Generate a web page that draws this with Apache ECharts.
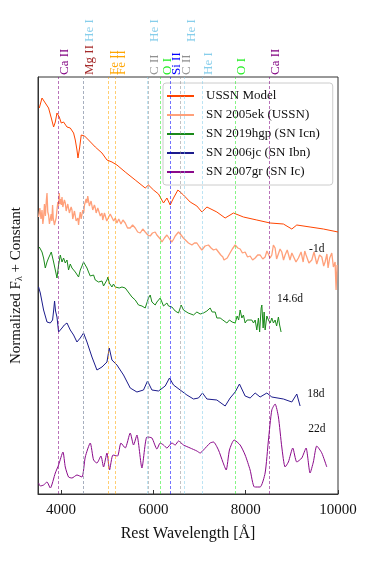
<!DOCTYPE html>
<html>
<head>
<meta charset="utf-8">
<script src="https://cdn.jsdelivr.net/npm/echarts@6/dist/echarts.min.js"></script>
<style>
  html, body { margin: 0; padding: 0; background: #fff; }
  #chart { width: 374px; height: 561px; }
</style>
</head>
<body>
<div id="chart"></div>
<script>
// spectra: rest wavelength (A) and normalized flux + constant
var ussnWl = [3528,3587,3658,3729,3788,3838,3875,3911,3961,4004,4054,4128,4199,4271,4308,4344,4366,4401,4437,4509,4595,4741,4886,4994,5102,5210,5390,5607,5823,5894,6003,6111,6219,6293,6364,6436,6531,6652,6797,6942,7051,7159,7375,7555,7735,7951,8241,8530,8817,8999,9107,9395,9683,10000];
var ussnFlux = [38.6,39.6,39.1,38.6,37.6,36.7,37.2,38.1,37.7,37.1,37.2,36.7,36.6,36.1,35.4,34.4,33.6,34.6,35.9,35.8,35.4,34.7,34.1,33.4,33.2,32.9,32.2,31.4,30.6,30.9,30.4,30.0,29.1,29.6,28.9,29.6,30.4,29.9,29.2,28.8,28.2,28.7,28.2,27.6,28.1,27.7,27.4,27.1,27.0,26.5,26.9,26.7,26.5,26.2];

var ek05Wl = [3513,3540,3565,3587,3605,3621,3640,3660,3680,3695,3712,3729,3748,3766,3785,3800,3816,3830,3838,3855,3875,3893,3911,3930,3945,3961,3975,3990,4005,4020,4038,4054,4072,4091,4110,4128,4145,4162,4180,4199,4218,4236,4253,4271,4290,4308,4326,4344,4362,4379,4398,4416,4435,4453,4470,4490,4507,4524,4543,4561,4578,4595,4613,4632,4650,4669,4686,4704,4722,4741,4760,4777,4795,4812,4850,4886,4903,4920,4940,4957,4990,5028,5065,5102,5140,5174,5210,5250,5297,5340,5390,5440,5498,5550,5607,5660,5715,5770,5823,5880,5931,5980,6039,6075,6111,6150,6185,6240,6293,6350,6401,6440,6473,6510,6544,6600,6650,6689,6760,6834,6890,6942,7000,7051,7120,7193,7250,7302,7360,7410,7460,7505,7530,7555,7600,7648,7710,7772,7830,7880,7930,7988,8040,8096,8150,8205,8260,8313,8370,8421,8460,8493,8530,8566,8600,8637,8670,8709,8745,8782,8820,8854,8900,8960,9000,9033,9090,9142,9200,9245,9280,9308,9370,9432,9480,9540,9600,9649,9690,9720,9760,9785,9820,9865,9900,9937,9958,9980];
var ek05Flux = [27.7,28.6,27.5,28.4,27.0,27.6,29.0,27.8,29.3,30.1,28.2,27.9,27.0,27.1,28.0,27.3,28.9,27.6,27.4,26.9,26.7,27.6,28.4,29.2,28.8,30.1,29.0,29.5,28.9,29.7,28.7,28.6,29.4,29.1,28.3,28.2,29.0,29.0,28.1,28.0,28.7,28.4,27.5,27.6,28.3,28.2,27.3,27.2,27.6,26.9,27.7,28.2,27.5,27.6,28.4,28.1,28.9,28.7,29.5,29.1,29.8,29.6,28.8,28.6,29.3,29.2,28.4,28.3,28.9,28.6,28.1,27.9,28.6,28.5,27.8,28.1,27.4,27.5,28.1,28.0,27.3,27.4,28.0,27.9,27.3,27.6,27.1,27.5,27.0,27.4,27.1,26.6,26.6,26.9,26.6,26.2,26.1,26.5,26.2,25.9,25.8,26.1,26.2,25.9,25.8,25.5,25.2,25.6,25.9,25.5,25.2,25.5,25.8,26.0,26.2,25.9,25.6,25.4,25.1,24.9,25.1,25.1,24.7,24.4,24.8,24.9,24.6,24.4,24.5,24.2,23.9,23.7,23.4,23.2,23.6,24.0,24.5,24.9,24.6,24.5,24.1,24.2,23.7,23.8,23.4,23.6,23.9,23.9,23.5,23.7,24.3,24.4,23.6,23.9,24.9,24.6,23.5,23.7,24.5,24.2,23.4,23.9,24.4,23.4,24.1,24.0,23.2,23.6,24.2,23.2,24.3,23.9,23.1,23.4,24.2,23.0,23.9,23.7,22.8,23.2,24.0,22.6,23.6,24.1,22.7,23.2,20.4,22.9];

var hgp19Wl = [3528,3587,3621,3658,3695,3729,3788,3838,3875,3911,3946,3983,4020,4054,4091,4128,4162,4199,4236,4271,4308,4344,4379,4416,4453,4487,4524,4561,4595,4632,4669,4704,4741,4777,4812,4850,4886,4920,4957,4994,5016,5044,5102,5135,5174,5216,5260,5319,5353,5390,5455,5535,5570,5607,5678,5752,5823,5866,5894,5931,5968,6003,6039,6076,6111,6148,6185,6219,6256,6293,6328,6364,6401,6436,6473,6509,6544,6581,6602,6652,6689,6754,6797,6869,6942,7014,7085,7159,7193,7230,7273,7302,7339,7375,7410,7447,7505,7545,7592,7648,7706,7772,7815,7847,7880,7917,7951,7988,8031,8074,8133,8169,8205,8241,8276,8302,8335,8350,8378,8400,8421,8458,8493,8530,8566,8601,8637,8670,8709,8735,8767];
var hgp19Flux = [24.7,24.2,23.6,22.6,23.2,23.6,24.2,23.2,22.4,21.6,22.9,23.9,23.2,23.6,23.1,23.4,22.4,23.0,22.6,22.8,22.2,22.4,21.7,22.4,22.8,23.2,23.1,22.6,22.2,21.8,21.7,21.9,21.4,21.6,21.2,21.0,21.3,20.8,20.9,21.4,21.7,21.1,20.7,21.0,20.7,20.9,20.6,20.7,20.5,20.6,20.2,19.7,19.9,19.4,18.9,18.8,18.6,19.2,19.6,19.9,19.2,19.4,18.9,19.2,19.4,19.6,19.2,18.8,18.7,19.1,18.8,18.9,18.7,18.5,18.3,18.5,18.1,18.6,18.9,18.4,18.2,18.1,18.2,17.9,18.2,18.0,18.1,18.3,18.2,18.6,18.2,18.0,18.2,17.6,17.8,17.6,17.4,17.6,17.1,17.4,17.2,17.1,17.8,17.4,18.4,17.6,17.9,17.1,17.4,17.2,17.4,17.1,17.4,16.4,17.6,16.2,18.6,18.9,16.6,18.2,16.4,17.8,17.4,17.1,17.6,17.1,17.4,16.8,17.7,16.9,16.2];

var jc06Wl = [3513,3550,3621,3695,3766,3816,3840,3859,3880,3911,3946,4020,4070,4128,4199,4271,4344,4416,4487,4561,4669,4777,4886,4994,5044,5102,5210,5353,5498,5643,5786,5873,5968,6111,6256,6349,6436,6581,6726,6869,6977,7064,7159,7375,7555,7663,7772,7865,7988,8096,8205,8313,8458,8566,8817,8999,9107,9179];
var jc06Flux = [20.7,20.1,18.4,17.2,17.1,17.4,18.4,19.3,18.3,17.7,16.2,16.6,16.9,17.1,16.4,15.9,15.2,15.6,16.1,15.2,13.7,12.4,12.7,13.2,14.6,13.4,12.9,11.9,10.6,10.2,10.4,11.3,10.4,10.3,10.8,11.6,10.9,10.4,9.9,9.5,9.6,10.1,9.5,9.4,8.8,9.6,10.2,11.0,9.8,9.6,10.1,9.7,10.1,9.7,9.5,9.2,10.0,8.8];

var gr07Wl = [3513,3550,3621,3695,3766,3875,3946,4041,4091,4162,4236,4344,4453,4524,4632,4704,4777,4864,4920,4994,5050,5124,5223,5297,5390,5498,5570,5643,5752,5860,5968,6076,6148,6219,6293,6401,6473,6544,6652,6797,6942,7014,7085,7230,7302,7410,7505,7577,7648,7750,7880,7988,8096,8190,8313,8421,8493,8566,8637,8709,8782,8854,8925,9020,9107,9215,9308,9395,9466,9540,9649,9757];
var gr07Flux = [1.1,0.8,0.9,1.2,0.6,2.1,2.9,4.2,2.7,1.7,1.6,1.9,1.7,3.7,5.1,3.4,3.1,3.8,2.7,4.1,2.4,3.9,3.8,5.1,4.6,6.1,4.9,5.9,2.6,5.7,5.6,4.5,5.1,4.9,4.6,5.1,4.9,5.3,4.9,4.6,4.3,4.1,4.4,5.1,5.2,4.4,3.2,2.4,4.4,5.4,4.9,3.9,2.4,0.7,0.7,2.1,5.4,8.4,9.0,7.7,4.7,2.7,3.2,4.6,3.2,3.6,4.6,2.1,3.2,4.8,4.1,2.7];

var seriesNames = ['USSN Model', 'SN 2005ek (USSN)', 'SN 2019hgp (SN Icn)', 'SN 2006jc (SN Ibn)', 'SN 2007gr (SN Ic)'];
var seriesColors = ['#ff4500', '#ffa07a', '#1a8a1a', '#1c1c8c', '#8b0a8b'];

// line identifications
var lineWl = [3945, 4481, 4471, 5018, 5169, 5890, 5876, 6158, 6355, 6580, 6678, 7065, 7774, 8500];
var lineNames = ['Ca II', 'Mg II', 'He I', 'Fe II', 'Fe II', 'C II', 'He I', 'O I', 'Si II', 'C II', 'He I', 'He I', 'O I', 'Ca II'];
var lineColors = ['#800080', '#a52a2a', '#87ceeb', '#ffa500', '#ffa500', '#909090', '#87ceeb', '#22ee22', '#0000ff', '#909090', '#87ceeb', '#87ceeb', '#22ee22', '#800080'];
var lineRow = [0, 0, 1, 0, 0, 0, 1, 0, 0, 0, 1, 0, 0, 0];

// epoch labels
var epochText = ['-1d', '14.6d', '18d', '22d'];
var epochWl = [9540, 8960, 9520, 9540];
var epochY = [24.5, 19.5, 10.0, 6.5];

var xTicks = [4000, 6000, 8000, 10000];

var serif = 'Liberation Serif';

function zip(a, b) {
  var out = [];
  for (var i = 0; i < a.length; i++) out.push([a[i], b[i]]);
  return out;
}

var allWl = [ussnWl, ek05Wl, hgp19Wl, jc06Wl, gr07Wl];
var allFlux = [ussnFlux, ek05Flux, hgp19Flux, jc06Flux, gr07Flux];

var series = [];
for (var s = 0; s < seriesNames.length; s++) {
  series.push({
    name: seriesNames[s],
    type: 'line',
    data: zip(allWl[s], allFlux[s]),
    symbol: 'none',
    smooth: s === 4 ? 0.2 : false,
    lineStyle: { color: seriesColors[s], width: s === 1 ? 1.3 : 1 },
    itemStyle: { color: seriesColors[s] },
    z: 3
  });
}

var markData = [];
for (var i = 0; i < lineWl.length; i++) {
  markData.push({
    xAxis: lineWl[i],
    lineStyle: { color: lineColors[i], type: [3, 2], width: 1, opacity: 0.55 }
  });
}
series.push({
  name: 'lines',
  type: 'line',
  data: [],
  silent: true,
  markLine: {
    silent: true,
    symbol: 'none',
    label: { show: false },
    animation: false,
    data: markData
  },
  z: 2
});

var chart = echarts.init(document.getElementById('chart'), null, { renderer: 'canvas' });

chart.setOption({
  animation: false,
  backgroundColor: '#fff',
  grid: {
    left: 38, right: 36, top: 77, bottom: 67,
    show: true, borderColor: '#333', borderWidth: 1,
    backgroundColor: 'transparent'
  },
  legend: {
    data: seriesNames,
    orient: 'vertical',
    left: 163,
    top: 83,
    padding: [6, 13, 6, 4],
    itemGap: 5,
    itemWidth: 27,
    itemHeight: 2,
    icon: 'rect',
    backgroundColor: 'rgba(255,255,255,0.85)',
    borderColor: '#cccccc',
    borderWidth: 1,
    borderRadius: 3,
    textStyle: {
      fontFamily: serif, fontSize: 13, color: '#111',
      lineHeight: 14, padding: [0, 0, 0, 7]
    }
  },
  xAxis: {
    type: 'value',
    min: 3500,
    max: 10000,
    name: 'Rest Wavelength [Å]',
    nameLocation: 'middle',
    nameGap: 32,
    nameTextStyle: { fontFamily: serif, fontSize: 16, color: '#111' },
    axisLine: { show: true, lineStyle: { color: '#333' } },
    axisTick: { show: true, inside: true, length: 4, customValues: xTicks, lineStyle: { color: '#333' } },
    axisLabel: {
      customValues: xTicks, fontFamily: serif, fontSize: 15, color: '#111', margin: 9,
      formatter: function (v) { return String(v); }
    },
    splitLine: { show: false }
  },
  yAxis: {
    type: 'value',
    min: 0,
    max: 41.7,
    name: 'Normalized F{sub|λ} + Constant',
    nameLocation: 'middle',
    nameRotate: 90,
    nameGap: 14,
    nameTextStyle: {
      fontFamily: serif, fontSize: 15, color: '#111',
      rich: { sub: { fontFamily: serif, fontSize: 10, padding: [5, 0, 0, 0] } }
    },
    axisLine: { show: true, lineStyle: { color: '#333' } },
    axisTick: { show: false },
    axisLabel: { show: false },
    splitLine: { show: false }
  },
  series: series
});

// text labels placed through the axis scales
var graphics = [];
for (var k = 0; k < lineWl.length; k++) {
  var px = chart.convertToPixel({ xAxisIndex: 0 }, lineWl[k]);
  graphics.push({
    type: 'text',
    x: px,
    y: lineRow[k] === 0 ? 75 : 42,
    rotation: Math.PI / 2,
    silent: true,
    style: {
      text: lineNames[k],
      fill: lineColors[k],
      font: '13px "' + serif + '"',
      textAlign: 'left',
      textVerticalAlign: 'top'
    }
  });
}
for (var e = 0; e < epochText.length; e++) {
  var p = chart.convertToPixel({ xAxisIndex: 0, yAxisIndex: 0 }, [epochWl[e], epochY[e]]);
  graphics.push({
    type: 'text',
    x: p[0],
    y: p[1],
    silent: true,
    style: {
      text: epochText[e],
      fill: '#111',
      font: '11.5px "' + serif + '"',
      textAlign: 'center',
      textVerticalAlign: 'middle'
    }
  });
}
chart.setOption({ graphic: graphics });
</script>
</body>
</html>
